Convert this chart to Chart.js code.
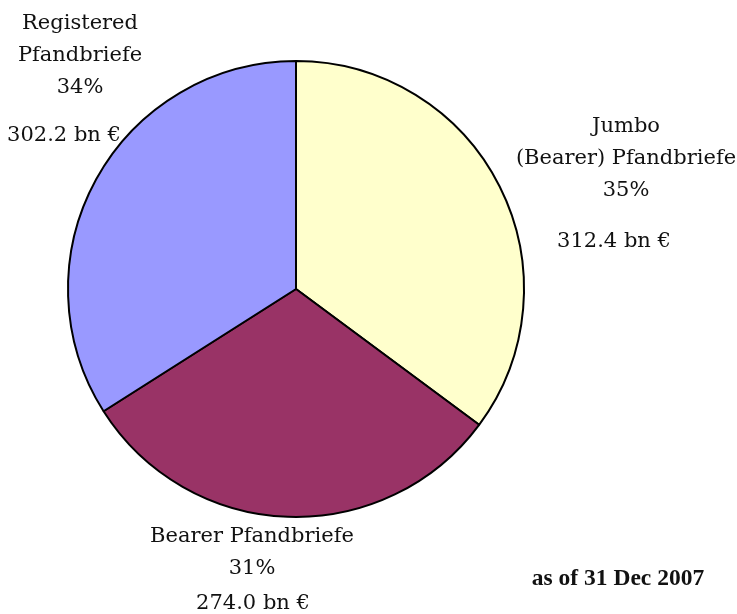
<!DOCTYPE html>
<html>
<head>
<meta charset="utf-8">
<script src="https://cdn.jsdelivr.net/npm/chart.js@4/dist/chart.umd.min.js"></script>
<style>
  html, body { margin: 0; padding: 0; background: #fff; }
  #wrap { width: 737px; height: 614px; }
</style>
</head>
<body>
<div id="wrap"><canvas id="pieChart" width="737" height="614"></canvas></div>
<script>
// Pfandbriefe outstanding, as of 31 Dec 2007 (bn EUR)
const categories = ['Jumbo (Bearer) Pfandbriefe', 'Bearer Pfandbriefe', 'Registered Pfandbriefe'];
const amounts = [312.4, 274.0, 302.2];
const shares = ['35%', '31%', '34%'];
const colors = ['#FFFFCC', '#993366', '#9999FF'];

const SERIF = '"DejaVu Serif", serif';

// Hand-placed labels (centre x, baselines), as in the original sheet
const labelLayout = [
    { lines: ['Jumbo', '(Bearer) Pfandbriefe'], x: 626, y: [132, 164, 196], valueX: 614, valueY: 247 },
    { lines: ['Bearer Pfandbriefe'], x: 252, y: [542, 574], valueX: 253, valueY: 609 },
    { lines: ['Registered', 'Pfandbriefe'], x: 80, y: [29, 61, 93], valueX: 64, valueY: 141 },
];

const labelPlugin = {
    id: 'sliceLabels',
    afterDraw(chart) {
        const ctx = chart.ctx;
        ctx.save();
        ctx.fillStyle = '#111';
        ctx.textAlign = 'center';
        ctx.textBaseline = 'alphabetic';
        ctx.font = '21px ' + SERIF;
        labelLayout.forEach((l, i) => {
            l.lines.forEach((t, j) => ctx.fillText(t, l.x, l.y[j]));
            ctx.fillText(shares[i], l.x, l.y[l.lines.length]);
            ctx.fillText(amounts[i].toFixed(1) + ' bn \u20AC', l.valueX, l.valueY);
        });
        ctx.font = 'bold 23.5px "Liberation Serif", serif';
        ctx.fillText('as of 31 Dec 2007', 618, 585);
        ctx.restore();
    }
};

new Chart(document.getElementById('pieChart'), {
    type: 'pie',
    data: {
        labels: categories,
        datasets: [{
            data: amounts,
            backgroundColor: colors,
            borderColor: '#000',
            borderWidth: 2,
        }],
    },
    options: {
        responsive: false,
        animation: false,
        layout: {
            padding: { left: 67, right: 212, top: 60, bottom: 96 },
        },
        plugins: {
            legend: { display: false },
            tooltip: { enabled: false },
        },
    },
    plugins: [labelPlugin],
});
</script>
</body>
</html>
